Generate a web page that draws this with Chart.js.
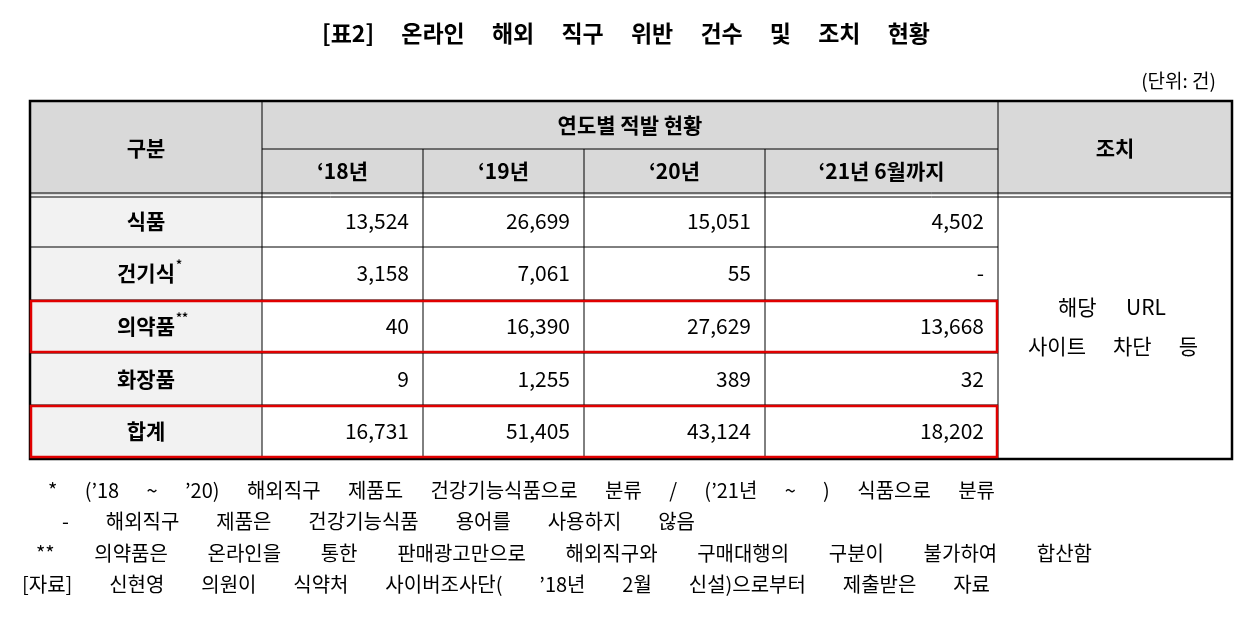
<!DOCTYPE html>
<html><head><meta charset="utf-8">
<script src="https://cdn.jsdelivr.net/npm/chart.js@4"></script>
<style>html,body{margin:0;padding:0;background:#fff}#wrap{width:1258px;height:622px}</style>
</head><body><div id="wrap"><canvas id="c" width="1258" height="622"></canvas></div>
<script>
const title = '[표2] 온라인 해외 직구 위반 건수 및 조치 현황';
const unitLabel = '(단위: 건)';
const categories = ['식품', '건기식', '의약품', '화장품', '합계'];
const catMarks = ['', '*', '**', '', ''];
const yearLabels = ["‘18년", "‘19년", "‘20년", "‘21년 6월까지"];
const y18 = [13524, 3158, 40, 9, 16731];
const y19 = [26699, 7061, 16390, 1255, 51405];
const y20 = [15051, 55, 27629, 389, 43124];
const y21 = [4502, null, 13668, 32, 18202];
const actionText = ['해당 URL', '사이트 차단 등'];
const highlighted = ['의약품', '합계'];
const notes = [
  '* (’18 ~ ’20) 해외직구 제품도 건강기능식품으로 분류 / (’21년 ~ ) 식품으로 분류',
  '- 해외직구 제품은 건강기능식품 용어를 사용하지 않음',
  '** 의약품은 온라인을 통한 판매광고만으로 해외직구와 구매대행의 구분이 불가하여 합산함',
  '[자료] 신현영 의원이 식약처 사이버조사단( ’18년 2월 신설)으로부터 제출받은 자료'
];
const series = [y18, y19, y20, y21];
const F = '"Noto Sans CJK KR", "Noto Sans", sans-serif';

const tablePlugin = {
  id: 'table',
  afterDraw(chart) {
    const ctx = chart.ctx, xs = chart.scales.x, ys = chart.scales.y;
    const X = v => xs.getPixelForValue(v), Y = v => ys.getPixelForValue(v);
    const spread = (text, x1, x2, y) => {
      const words = text.split(' ');
      const total = words.reduce((a, w) => a + ctx.measureText(w).width, 0);
      const gap = words.length > 1 ? (X(x2) - X(x1) - total) / (words.length - 1) : 0;
      let x = X(x1);
      ctx.textAlign = 'left';
      words.forEach(w => { ctx.fillText(w, x, Y(y)); x += ctx.measureText(w).width + gap; });
    };
    const colX = [30, 262, 423, 584, 765, 998, 1232];
    const rowY = [101, 149, 195, 247, 300, 353, 405, 458];
    ctx.save();
    ctx.textBaseline = 'middle';
    ctx.fillStyle = '#000';
    ctx.font = 'bold 23px ' + F;
    spread(title, 322, 930, 33);
    ctx.font = '19px ' + F; ctx.textAlign = 'right';
    ctx.fillText(unitLabel, X(1216), Y(81));
    ctx.fillStyle = '#d9d9d9';
    ctx.fillRect(X(30), Y(101), X(1232) - X(30), Y(195) - Y(101));
    ctx.fillStyle = '#f2f2f2';
    ctx.fillRect(X(30), Y(195), X(262) - X(30), Y(458) - Y(195));
    ctx.strokeStyle = '#000'; ctx.lineWidth = 1;
    const line = (x1, y1, x2, y2) => { ctx.beginPath(); ctx.moveTo(X(x1), Y(y1)); ctx.lineTo(X(x2), Y(y2)); ctx.stroke(); };
    line(262, 149, 998, 149);
    line(30, 193, 1232, 193); line(30, 197, 1232, 197);
    for (let r = 3; r < 7; r++) line(30, rowY[r], 998, rowY[r]);
    line(262, 101, 262, 458); line(998, 101, 998, 458);
    for (let c = 2; c < 5; c++) line(colX[c], 149, colX[c], 458);
    ctx.lineWidth = 2.5;
    ctx.strokeRect(X(30), Y(101), X(1232) - X(30), Y(459) - Y(101));
    ctx.fillStyle = '#000'; ctx.font = 'bold 21px ' + F; ctx.textAlign = 'center';
    ctx.fillText('구분', X(146), Y(148));
    ctx.fillText('연도별 적발 현황', X(630), Y(125));
    ctx.fillText('조치', X(1115), Y(148));
    yearLabels.forEach((l, i) => ctx.fillText(l, X((colX[i + 1] + colX[i + 2]) / 2), Y(171)));
    categories.forEach((cat, r) => {
      const cy = Y((rowY[r + 2] + rowY[r + 3]) / 2);
      ctx.font = 'bold 21px ' + F; ctx.textAlign = 'center';
      ctx.fillText(cat, X(146), cy);
      if (catMarks[r]) {
        const w = ctx.measureText(cat).width;
        ctx.font = 'bold 12px ' + F; ctx.textAlign = 'left';
        ctx.fillText(catMarks[r], X(146) + w / 2 + 1, cy - 9);
      }
      ctx.font = '21px ' + F; ctx.textAlign = 'right';
      series.forEach((s, c) => {
        const v = s[r];
        ctx.fillText(v == null ? '-' : v.toLocaleString('en-US'), X(colX[c + 2] - 14), cy);
      });
      if (highlighted.includes(cat)) {
        ctx.strokeStyle = '#e00000'; ctx.lineWidth = 2.5;
        ctx.strokeRect(X(31), Y(rowY[r + 2] + 1), X(997) - X(31), Y(rowY[r + 3] - 1) - Y(rowY[r + 2] + 1));
        ctx.strokeStyle = '#000';
      }
    });
    ctx.font = '21px ' + F; ctx.fillStyle = '#000';
    spread(actionText[0], 1058, 1166, 307);
    spread(actionText[1], 1028, 1198, 346);
    ctx.font = '20px ' + F;
    const nx = [48, 62, 36, 22], ne = [995, 695, 1092, 990], ny = [490, 521, 553, 584];
    notes.forEach((n, i) => spread(n, nx[i], ne[i], ny[i]));
    ctx.restore();
  }
};

new Chart(document.getElementById('c'), {
  type: 'scatter',
  data: { datasets: [{ data: [], pointRadius: 0 }] },
  options: {
    responsive: false, animation: false, devicePixelRatio: 1,
    layout: { padding: 0 },
    plugins: { legend: { display: false }, tooltip: { enabled: false } },
    scales: {
      x: { type: 'linear', min: 0, max: 1258, display: false },
      y: { type: 'linear', min: 0, max: 622, reverse: true, display: false }
    }
  },
  plugins: [tablePlugin]
});
</script></body></html>
